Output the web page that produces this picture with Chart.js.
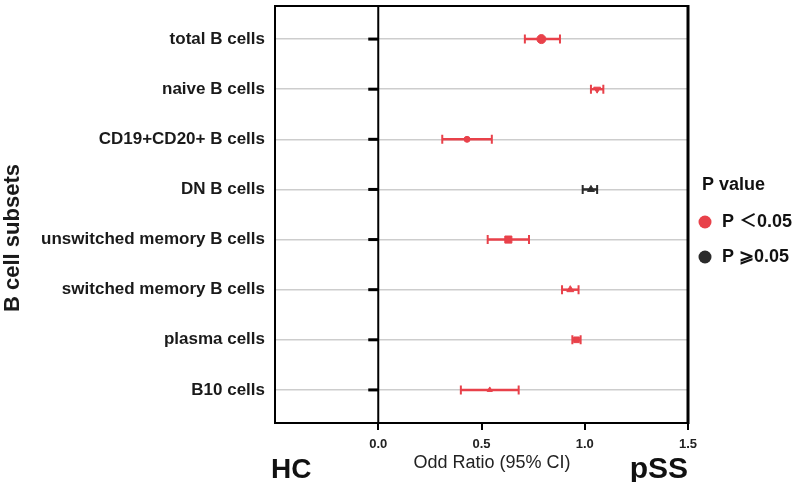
<!DOCTYPE html>
<html><head><meta charset="utf-8">
<script src="https://cdn.jsdelivr.net/npm/chart.js@4/dist/chart.umd.min.js"></script>
<style>html,body{margin:0;padding:0;background:#fff}</style>
</head><body><canvas id="c" width="800" height="482"></canvas>
<script>
const categories = ['total B cells','naive B cells','CD19+CD20+ B cells','DN B cells','unswitched memory B cells','switched memory B cells','plasma cells','B10 cells'];
const oddsRatio = [0.79, 1.06, 0.43, 1.03, 0.63, 0.93, 0.96, 0.54];
const ciLower   = [0.71, 1.03, 0.31, 0.99, 0.53, 0.89, 0.94, 0.40];
const ciUpper   = [0.88, 1.09, 0.55, 1.06, 0.73, 0.97, 0.98, 0.68];
const significant = [true, true, true, false, true, true, true, true];
const markerStyles = ['circle','triangle','circle','triangle','rect','triangle','rect','triangle'];
const xTicks = [0, 0.5, 1.0, 1.5];
const legendTitle = 'P value';
const legendLabels = ['P ＜0.05', 'P ⩾0.05'];
const yTitle = 'B cell subsets';
const xTitle = 'Odd Ratio (95% CI)';
const leftLabel = 'HC';
const rightLabel = 'pSS';

const RED = '#e8414a', BLACK = '#2b2b2b';
const FONT = '"Liberation Sans", Arial, "Noto Sans CJK SC", sans-serif';
const colorOf = i => significant[i] ? RED : BLACK;

const extras = {
  id: 'extras',
  beforeDatasetsDraw(chart) {
    const {ctx, chartArea: a, scales: {x, y}} = chart;
    ctx.save();
    const x0 = x.getPixelForValue(0);
    ctx.strokeStyle = '#000'; ctx.lineWidth = 2;
    ctx.beginPath(); ctx.moveTo(x0, a.top); ctx.lineTo(x0, a.bottom); ctx.stroke();
    ctx.lineWidth = 3;
    categories.forEach((c, i) => {
      const py = y.getPixelForValue(i);
      ctx.beginPath(); ctx.moveTo(x0 - 10, py); ctx.lineTo(x0, py); ctx.stroke();
    });
    categories.forEach((c, i) => {
      const py = y.getPixelForValue(i);
      const xl = x.getPixelForValue(ciLower[i]), xh = x.getPixelForValue(ciUpper[i]);
      ctx.strokeStyle = colorOf(i); ctx.lineWidth = 2.5;
      ctx.beginPath(); ctx.moveTo(xl, py); ctx.lineTo(xh, py); ctx.stroke();
      ctx.lineWidth = 2;
      ctx.beginPath();
      ctx.moveTo(xl, py - 4.5); ctx.lineTo(xl, py + 4.5);
      ctx.moveTo(xh, py - 4.5); ctx.lineTo(xh, py + 4.5);
      ctx.stroke();
    });
    ctx.restore();
  },
  afterDraw(chart) {
    const {ctx, chartArea: a} = chart;
    ctx.save();
    ctx.strokeStyle = '#000';
    ctx.lineWidth = 2;
    ctx.beginPath(); ctx.moveTo(a.left - 1, a.top); ctx.lineTo(a.right, a.top); ctx.stroke();
    ctx.lineWidth = 3;
    ctx.beginPath(); ctx.moveTo(a.right, a.top - 1); ctx.lineTo(a.right, a.bottom + 1); ctx.stroke();
    ctx.fillStyle = '#1a1a1a';
    ctx.font = 'bold 22px ' + FONT;
    ctx.textAlign = 'center'; ctx.textBaseline = 'middle';
    ctx.save(); ctx.translate(13, 238); ctx.rotate(-Math.PI / 2); ctx.fillText(yTitle, 0, 0); ctx.restore();
    ctx.font = '18px ' + FONT;
    ctx.fillStyle = '#222';
    ctx.fillText(xTitle, 492, 463);
    ctx.font = 'bold 28px ' + FONT;
    ctx.fillStyle = '#111';
    ctx.textBaseline = 'alphabetic';
    ctx.textAlign = 'left'; ctx.fillText(leftLabel, 271, 478);
    ctx.font = 'bold 30px ' + FONT;
    ctx.textAlign = 'right'; ctx.fillText(rightLabel, 688, 478);
    ctx.textAlign = 'left'; ctx.textBaseline = 'middle';
    ctx.font = 'bold 18px ' + FONT;
    ctx.fillText(legendTitle, 702, 185);
    const ly = [222, 257], lc = [RED, BLACK];
    legendLabels.forEach((t, k) => {
      ctx.fillStyle = lc[k];
      ctx.beginPath(); ctx.arc(705, ly[k], 6.5, 0, Math.PI * 2); ctx.fill();
      ctx.fillStyle = '#111';
      ctx.fillText(t, 722, ly[k]);
    });
    ctx.restore();
  }
};

new Chart(document.getElementById('c'), {
  type: 'scatter',
  data: {
    datasets: [{
      data: categories.map((c, i) => ({x: oddsRatio[i], y: i})),
      pointStyle: markerStyles,
      pointRadius: [4.5, 4, 3, 4, 5, 4, 4, 3],
      rotation: [0, 180, 0, 0, 0, 0, 0, 0],
      backgroundColor: categories.map((c, i) => colorOf(i)),
      borderColor: categories.map((c, i) => colorOf(i)),
      borderWidth: 1
    }]
  },
  options: {
    responsive: false,
    animation: false,
    layout: {padding: {left: 0, right: 112, top: 5, bottom: 0}},
    plugins: {legend: {display: false}, tooltip: {enabled: false}},
    scales: {
      x: {
        type: 'linear', min: -0.5, max: 1.5,
        afterBuildTicks: s => { s.ticks = xTicks.map(v => ({value: v})); },
        afterFit: s => { s.height = 59; s.paddingLeft = 0; s.paddingRight = 0; },
        grid: {drawOnChartArea: false, drawTicks: true, tickLength: 7, color: '#000', lineWidth: 2},
        border: {display: true, color: '#000', width: 2},
        ticks: {font: {family: FONT, size: 13, weight: 'bold'}, color: '#222', padding: 7,
                callback: v => Number(v).toFixed(1)}
      },
      y: {
        type: 'linear', min: -0.66, max: 7.66, reverse: true,
        afterBuildTicks: s => { s.ticks = categories.map((c, i) => ({value: i})); },
        afterFit: s => { s.width = 275; s.paddingTop = 0; s.paddingBottom = 0; },
        grid: {drawTicks: false, color: '#cdcdcd', lineWidth: 1.5},
        border: {display: true, color: '#000', width: 2},
        ticks: {font: {family: FONT, size: 17, weight: 'bold'}, color: '#1a1a1a', padding: 10,
                callback: v => categories[v]}
      }
    }
  },
  plugins: [extras]
});
</script></body></html>
